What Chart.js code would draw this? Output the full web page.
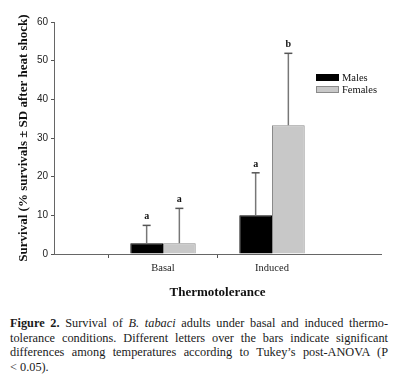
<!DOCTYPE html>
<html>
<head>
<meta charset="utf-8">
<script src="https://cdn.jsdelivr.net/npm/chart.js@4.4.1/dist/chart.umd.min.js"></script>
<style>
html,body{margin:0;padding:0;background:#fff;}
#wrap{position:relative;width:400px;height:374px;overflow:hidden;}
#c{position:absolute;left:0;top:0;}
#cap{position:absolute;left:10px;top:316px;width:378px;font-family:"Liberation Serif",serif;font-size:12.3px;line-height:14.6px;color:#1a1a1a;}
#cap div.j{text-align:justify;text-align-last:justify;white-space:nowrap;}
</style>
</head>
<body>
<div id="wrap">
<canvas id="c" width="400" height="300"></canvas>
<div id="cap">
<div class="j"><b>Figure 2.</b> Survival of <i>B. tabaci</i> adults under basal and induced thermo-</div>
<div class="j">tolerance conditions. Different letters over the bars indicate significant</div>
<div class="j">differences among temperatures according to Tukey’s post-ANOVA (P</div>
<div>&lt; 0.05).</div>
</div>
</div>
<script>
const categories = ['Basal', 'Induced'];
const seriesNames = ['Males', 'Females'];
const malesMean = [2.8, 10.0];
const femalesMean = [2.8, 33.3];
const malesSD = [4.6, 11.0];
const femalesSD = [9.0, 18.6];
const malesLetters = ['a', 'a'];
const femalesLetters = ['a', 'b'];
const yTicks = [0, 10, 20, 30, 40, 50, 60];

const SERIF = '"Liberation Serif", "Times New Roman", serif';
const SANS = '"Liberation Sans", Arial, sans-serif';

// pad categories with blank slots at both ends
const labels = [''].concat(categories, ['']);
const pad = arr => [null].concat(arr, [null]);

const errorPlugin = {
  id: 'errs',
  afterDatasetsDraw(chart) {
    const ctx = chart.ctx;
    const y = chart.scales.y;
    chart.data.datasets.forEach((ds, di) => {
      const meta = chart.getDatasetMeta(di);
      meta.data.forEach((bar, i) => {
        const v = ds.data[i];
        if (v == null) return;
        const sd = ds.sd[i];
        const x = bar.x;
        const yTop = y.getPixelForValue(v);
        const yErr = y.getPixelForValue(v + sd);
        ctx.save();
        ctx.strokeStyle = '#777';
        ctx.lineWidth = 1.5;
        ctx.beginPath();
        ctx.moveTo(x, yTop);
        ctx.lineTo(x, yErr);
        ctx.stroke();
        ctx.strokeStyle = '#555';
        ctx.lineWidth = 1.5;
        ctx.beginPath();
        ctx.moveTo(x - 4, yErr);
        ctx.lineTo(x + 4, yErr);
        ctx.stroke();
        ctx.fillStyle = '#111';
        ctx.font = 'bold 10px ' + SERIF;
        ctx.textAlign = 'center';
        ctx.textBaseline = 'alphabetic';
        ctx.fillText(ds.letters[i], x, yErr - 6);
        ctx.restore();
      });
    });
  },
  afterDraw(chart) {
    const ctx = chart.ctx;
    const bx = 316, bw = 23, bh = 7;
    const rows = [74, 86];
    chart.data.datasets.forEach((ds, di) => {
      const yy = rows[di];
      ctx.save();
      ctx.fillStyle = ds.backgroundColor;
      ctx.fillRect(bx, yy, bw, bh);
      ctx.strokeStyle = ds.borderColor;
      ctx.lineWidth = 1;
      ctx.strokeRect(bx + 0.5, yy + 0.5, bw - 1, bh - 1);
      ctx.fillStyle = '#111';
      ctx.font = '10.5px ' + SERIF;
      ctx.textAlign = 'left';
      ctx.textBaseline = 'middle';
      ctx.fillText(ds.label, bx + bw + 3, yy + bh / 2 + 0.5);
      ctx.restore();
    });
  }
};

new Chart(document.getElementById('c'), {
  type: 'bar',
  data: {
    labels: labels,
    datasets: [
      { label: seriesNames[0], data: pad(malesMean), sd: pad(malesSD), letters: pad(malesLetters),
        backgroundColor: '#000000', borderColor: '#000000', borderWidth: 1 },
      { label: seriesNames[1], data: pad(femalesMean), sd: pad(femalesSD), letters: pad(femalesLetters),
        backgroundColor: '#c8c8c8', borderColor: '#8a8a8a', borderWidth: 1 }
    ]
  },
  options: {
    responsive: false,
    animation: false,
    events: [],
    layout: { padding: { top: 22, right: 19, left: 0, bottom: 0 } },
    datasets: { bar: { barPercentage: 1, categoryPercentage: 0.6 } },
    plugins: { legend: { display: false }, tooltip: { enabled: false } },
    scales: {
      x: {
        type: 'category',
        offset: false,
        grid: { display: true, drawOnChartArea: false, tickLength: 4,
          tickColor: c => (c.index === 1 || c.index === 2) ? '#555' : 'rgba(0,0,0,0)', tickWidth: 1 },
        border: { display: true, color: '#666', width: 1 },
        ticks: { color: '#222', font: { family: SERIF, size: 10.5 }, padding: 4, maxRotation: 0, autoSkip: false },
        title: { display: true, text: 'Thermotolerance', color: '#111',
          font: { family: SERIF, size: 13, weight: 'bold' }, padding: { top: 26, bottom: 0 } },
        afterFit: s => { s.height = 46; }
      },
      y: {
        min: 0, max: 60,
        afterBuildTicks: s => { s.ticks = yTicks.map(v => ({ value: v })); },
        grid: { display: true, drawOnChartArea: false, tickLength: 3, tickColor: '#555' },
        border: { display: true, color: '#666', width: 1 },
        ticks: { color: '#222', font: { family: SANS, size: 10 }, padding: 3 },
        title: { display: true, text: 'Survival (% survivals ± SD after heat shock)', color: '#111',
          font: { family: SERIF, size: 13, weight: 'bold' }, padding: { top: 15.5, bottom: 0 } },
        afterFit: s => { s.width = 54; }
      }
    }
  },
  plugins: [errorPlugin]
});
</script>
</body>
</html>
